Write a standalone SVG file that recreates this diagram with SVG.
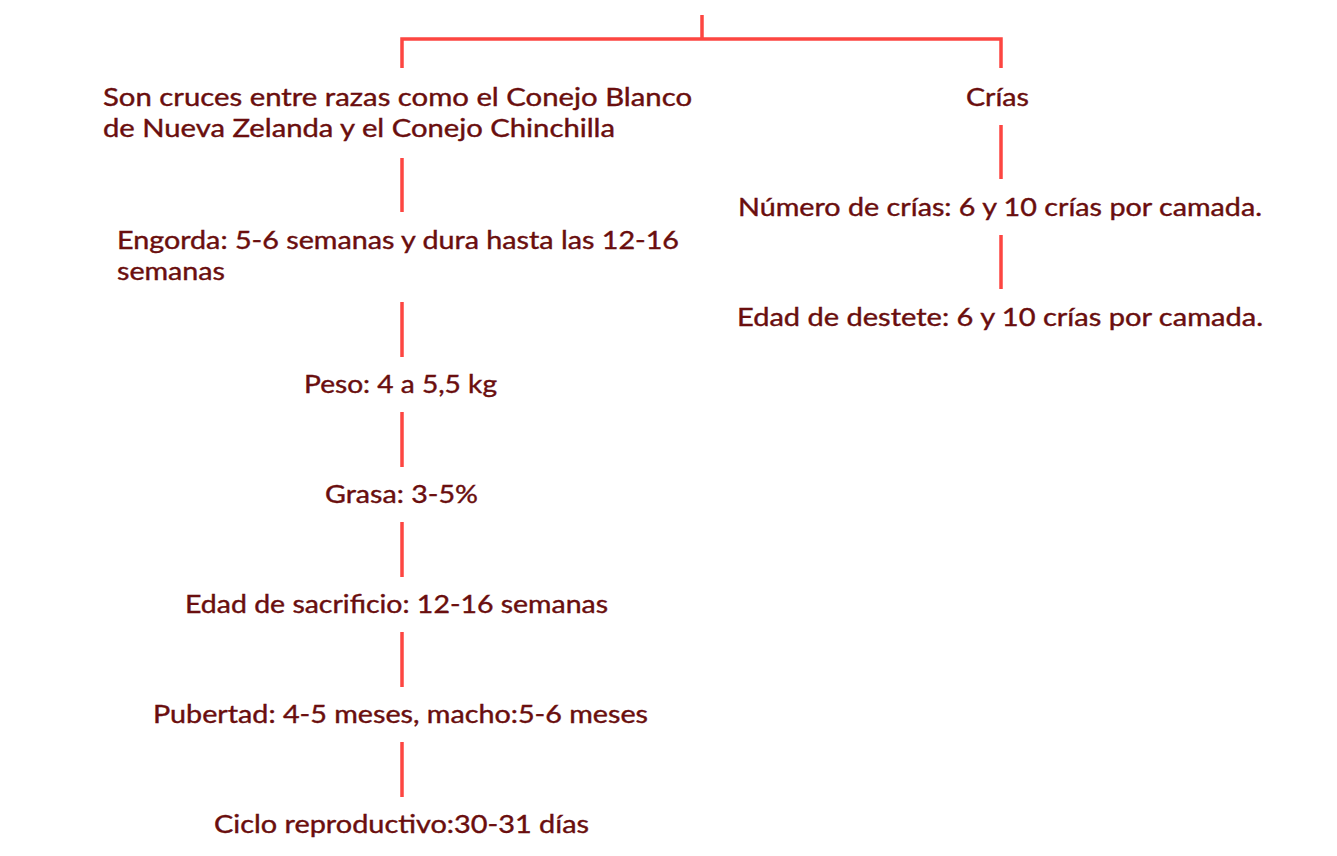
<svg xmlns="http://www.w3.org/2000/svg" width="1337" height="856" viewBox="0 0 1337 856">
<style>
.t{font-family:Lato,"Open Sans","Liberation Sans",sans-serif;font-size:25px;fill:#6a0e0e;stroke:#6a0e0e;stroke-width:0.4}
.l{stroke:#fd4641;stroke-width:3.5;fill:none}
</style>
<rect width="1337" height="856" fill="#ffffff"/>
<g id="connectors">
<path class="l" d="M702 15V39M402 68V39H1001V68"/>
<path class="l" d="M402 158V212M402 302V357M402 412V467M402 522V577M402 632V687M402 742V797"/>
<path class="l" d="M1001 125V179M1001 235V289"/>
</g>
<g id="n-cruces">
<text class="t" x="103" y="106" textLength="589" lengthAdjust="spacingAndGlyphs">Son cruces entre razas como el Conejo Blanco</text>
<text class="t" x="103" y="137" textLength="512" lengthAdjust="spacingAndGlyphs">de Nueva Zelanda y el Conejo Chinchilla</text>
</g>
<g id="n-engorda">
<text class="t" x="117" y="249" textLength="562" lengthAdjust="spacingAndGlyphs">Engorda: 5-6 semanas y dura hasta las 12-16</text>
<text class="t" x="117" y="280" textLength="108" lengthAdjust="spacingAndGlyphs">semanas</text>
</g>
<g id="n-peso"><text class="t" x="304" y="393" textLength="193" lengthAdjust="spacingAndGlyphs">Peso: 4 a 5,5 kg</text></g>
<g id="n-grasa"><text class="t" x="325" y="503" textLength="153" lengthAdjust="spacingAndGlyphs">Grasa: 3-5%</text></g>
<g id="n-sacrificio"><text class="t" x="185" y="613" textLength="423" lengthAdjust="spacingAndGlyphs">Edad de sacrificio: 12-16 semanas</text></g>
<g id="n-pubertad"><text class="t" x="153" y="723" textLength="495" lengthAdjust="spacingAndGlyphs">Pubertad: 4-5 meses, macho:5-6 meses</text></g>
<g id="n-ciclo"><text class="t" x="214" y="833" textLength="375" lengthAdjust="spacingAndGlyphs">Ciclo reproductivo:30-31 días</text></g>
<g id="n-crias"><text class="t" x="966" y="106" textLength="63" lengthAdjust="spacingAndGlyphs">Crías</text></g>
<g id="n-numero"><text class="t" x="738" y="216" textLength="524" lengthAdjust="spacingAndGlyphs">Número de crías: 6 y 10 crías por camada.</text></g>
<g id="n-destete"><text class="t" x="737" y="326" textLength="526" lengthAdjust="spacingAndGlyphs">Edad de destete: 6 y 10 crías por camada.</text></g>
</svg>
